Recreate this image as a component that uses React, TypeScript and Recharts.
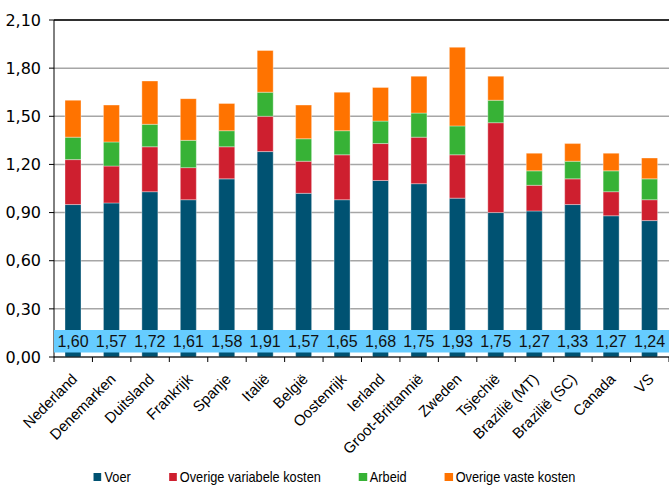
import React from 'react';
import { BarChart, Bar, XAxis, YAxis, CartesianGrid, ReferenceArea, ReferenceLine, LabelList, Legend } from 'recharts';

const countries = ['Nederland', 'Denemarken', 'Duitsland', 'Frankrijk', 'Spanje', 'Italië', 'België', 'Oostenrijk', 'Ierland', 'Groot-Brittannië', 'Zweden', 'Tsjechië', 'Brazilië (MT)', 'Brazilië (SC)', 'Canada', 'VS'];
const voer = [0.95, 0.96, 1.03, 0.98, 1.11, 1.28, 1.02, 0.98, 1.10, 1.08, 0.99, 0.90, 0.91, 0.95, 0.88, 0.85];
const overigeVariabel = [0.28, 0.23, 0.28, 0.20, 0.20, 0.22, 0.20, 0.28, 0.23, 0.29, 0.27, 0.56, 0.16, 0.16, 0.15, 0.13];
const arbeid = [0.14, 0.15, 0.14, 0.17, 0.10, 0.15, 0.14, 0.15, 0.14, 0.15, 0.18, 0.14, 0.09, 0.11, 0.13, 0.13];
const overigeVast = [0.23, 0.23, 0.27, 0.26, 0.17, 0.26, 0.21, 0.24, 0.21, 0.23, 0.49, 0.15, 0.11, 0.11, 0.11, 0.13];
const totals = [1.60, 1.57, 1.72, 1.61, 1.58, 1.91, 1.57, 1.65, 1.68, 1.75, 1.93, 1.75, 1.27, 1.33, 1.27, 1.24];
const yTicks = [0, 0.3, 0.6, 0.9, 1.2, 1.5, 1.8, 2.1];
const bandRange = [0.028, 0.168];
const seriesNames = ['Voer', 'Overige variabele kosten', 'Arbeid', 'Overige vaste kosten'];
const seriesColors = ['#005272', '#CE1F2F', '#37B236', '#FF7300'];

const data = countries.map((c, i) => ({
  name: c,
  voer: voer[i],
  var: overigeVariabel[i],
  arbeid: arbeid[i],
  vast: overigeVast[i],
  total: totals[i],
}));

const FONT = "'Liberation Sans', Arial, sans-serif";
const fmt = (v: number) => v.toFixed(2).replace('.', ',');
const LEG_SCALE = 0.85;

const CategoryTick = (props: any) => {
  const { x, y, payload, index } = props;
  const off = payload.offset || 0;
  const ax = x + 5;
  const ay = y + 23;
  return (
    <g>
      <line x1={x - off} y1={y} x2={x - off} y2={y + 5} stroke="#000" strokeWidth={1} />
      {index === countries.length - 1 && (
        <line x1={x + off} y1={y} x2={x + off} y2={y + 5} stroke="#000" strokeWidth={1} />
      )}
      <text
        x={0}
        y={0}
        textAnchor="end"
        transform={`translate(${ax}, ${ay}) rotate(-45)`}
        fontFamily={FONT}
        fontSize={15}
        fill="#000"
      >
        {payload.value}
      </text>
    </g>
  );
};

const BandLabel = (props: any) => {
  const { x, y, width, height, value } = props;
  return (
    <text
      x={x + width / 2}
      y={y + height - 10}
      textAnchor="middle"
      fontFamily={FONT}
      fontSize={16}
      fill="#111"
    >
      {fmt(Number(value))}
    </text>
  );
};

const LegendContent = () => {
  return (
    <div
      style={{
        height: 30,
        display: 'flex',
        justifyContent: 'center',
        alignItems: 'flex-end',
        fontFamily: FONT,
        fontSize: 15,
        lineHeight: '17px',
        color: '#000',
        transform: `scaleX(${LEG_SCALE})`,
        transformOrigin: 'center',
      }}
    >
      {seriesNames.map((n, i) => (
        <div key={i} style={{ display: 'flex', alignItems: 'center', marginRight: i < seriesNames.length - 1 ? 38 / LEG_SCALE : 0 }}>
          <span style={{ display: 'inline-block', width: 8 / LEG_SCALE, height: 8, background: seriesColors[i], marginRight: 3 / LEG_SCALE }} />
          <span>{n}</span>
        </div>
      ))}
    </div>
  );
};

export default function App() {
  return (
    <div style={{ position: 'absolute', left: 0, top: 0 }}>
      <BarChart width={669} height={485} data={data} margin={{ top: 20, right: 0, left: 0, bottom: 0 }} barSize={16}>
        <CartesianGrid vertical={false} stroke="#A6A6A6" strokeWidth={1.5} />
        <XAxis
          dataKey="name"
          interval={0}
          tickLine={false}
          tickSize={0}
          tickMargin={0}
          height={98}
          stroke="#000"
          tick={<CategoryTick />}
        />
        <YAxis
          width={54}
          domain={[0, 2.1]}
          ticks={yTicks}
          tickFormatter={fmt}
          tickSize={5}
          tickMargin={8}
          stroke="#000"
          tick={{ fill: '#000', fontSize: 16, fontFamily: "'DejaVu Sans', sans-serif" }}
          allowDataOverflow
        />
        <ReferenceLine y={2.1} stroke="#000" strokeWidth={1.5} />
        <Bar dataKey="voer" name={seriesNames[0]} stackId="a" fill={seriesColors[0]} stroke="rgba(255,255,255,0.35)" isAnimationActive={false}>
          <LabelList dataKey="total" content={<BandLabel />} />
        </Bar>
        <Bar dataKey="var" name={seriesNames[1]} stackId="a" fill={seriesColors[1]} stroke="rgba(255,255,255,0.35)" isAnimationActive={false} />
        <Bar dataKey="arbeid" name={seriesNames[2]} stackId="a" fill={seriesColors[2]} stroke="rgba(255,255,255,0.35)" isAnimationActive={false} />
        <Bar dataKey="vast" name={seriesNames[3]} stackId="a" fill={seriesColors[3]} stroke="rgba(255,255,255,0.35)" isAnimationActive={false} />
        <ReferenceArea y1={bandRange[0]} y2={bandRange[1]} fill="#66CCFF" fillOpacity={1} stroke="none" zIndex={1000} />
        <Legend verticalAlign="bottom" height={30} content={<LegendContent />} />
      </BarChart>
    </div>
  );
}
